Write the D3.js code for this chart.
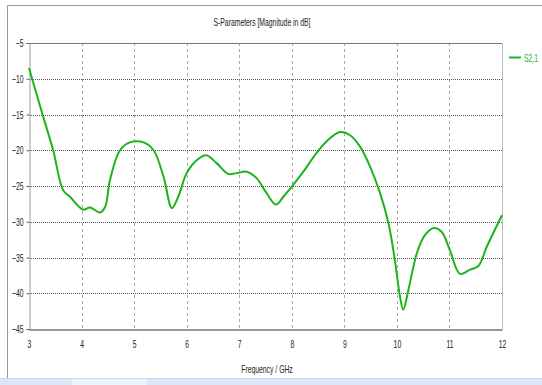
<!DOCTYPE html>
<html>
<head>
<meta charset="utf-8">
<script src="https://cdn.jsdelivr.net/npm/d3@7/dist/d3.min.js"></script>
<style>
  html, body { margin: 0; padding: 0; background: #fff; }
  svg { display: block; }
  text { font-family: "Liberation Sans", Arial, sans-serif; fill: #222; }
</style>
</head>
<body>
<svg id="chart" width="542" height="385"></svg>
<script>
// S21 magnitude versus frequency
const freqGHz = [3.0, 3.27, 3.46, 3.65, 3.78, 4.03, 4.16, 4.35, 4.45, 4.54, 4.73, 4.92, 5.18, 5.37, 5.56, 5.72, 5.84, 6.0, 6.19, 6.37, 6.57, 6.79, 6.95, 7.14, 7.33, 7.52, 7.70, 7.84, 8.0, 8.22, 8.47, 8.70, 8.92, 9.11, 9.30, 9.49, 9.68, 9.84, 9.96, 10.06, 10.12, 10.22, 10.38, 10.53, 10.69, 10.85, 11.01, 11.20, 11.39, 11.55, 11.71, 12.0];
const s21dB = [-8.5, -15.3, -20.0, -25.6, -26.5, -28.3, -28.0, -28.7, -27.9, -24.2, -20.0, -18.9, -18.9, -20.0, -23.7, -28.1, -26.5, -23.2, -21.4, -20.7, -21.8, -23.3, -23.2, -23.0, -23.9, -26.0, -27.6, -26.5, -25.1, -23.0, -20.4, -18.5, -17.45, -17.9, -19.5, -22.3, -26.0, -30.2, -35.3, -40.5, -42.3, -39.5, -34.4, -31.9, -30.9, -31.4, -34.0, -37.3, -36.7, -36.2, -33.5, -29.1];
const xTicks = [3, 4, 5, 6, 7, 8, 9, 10, 11, 12];
const yTicks = [-5, -10, -15, -20, -25, -30, -35, -40, -45];
const seriesName = "S2,1";
const chartTitle = "S-Parameters [Magnitude in dB]";
const xTitle = "Frequency / GHz";

const svg = d3.select("#chart");
const W = 542, H = 385;
const plot = { left: 29, right: 502, top: 43, bottom: 329 };
const green = "#1cb41c";
const squeeze = 0.62;

// window frame and bottom strip
svg.append("line").attr("x1", 7.5).attr("x2", 7.5).attr("y1", 5).attr("y2", 379)
  .attr("stroke", "#999").attr("stroke-width", 1);
svg.append("line").attr("x1", 7).attr("x2", W).attr("y1", 5.5).attr("y2", 5.5)
  .attr("stroke", "#999").attr("stroke-width", 1);
svg.append("rect").attr("x", 0).attr("y", 378).attr("width", W).attr("height", 7).attr("fill", "#dbe7f6");
svg.append("rect").attr("x", 0).attr("y", 378).attr("width", W).attr("height", 1).attr("fill", "#c7d9ef");
svg.append("rect").attr("x", 72).attr("y", 379).attr("width", 75).attr("height", 6).attr("fill", "#eef4fb");

const x = d3.scaleLinear().domain([3, 12]).range([plot.left, plot.right]);
const y = d3.scaleLinear().domain([-45, -5]).range([plot.bottom, plot.top]);

// grid
const g = svg.append("g");
g.selectAll("line.vgrid").data(xTicks.slice(1, -1)).join("line")
  .attr("x1", d => Math.round(x(d)) + 0.5).attr("x2", d => Math.round(x(d)) + 0.5)
  .attr("y1", plot.top).attr("y2", plot.bottom)
  .attr("stroke", "#aaa").attr("stroke-dasharray", "3,3");
g.selectAll("line.hgrid").data(yTicks.slice(1, -1)).join("line")
  .attr("x1", plot.left).attr("x2", plot.right)
  .attr("y1", d => Math.round(y(d)) + 0.5).attr("y2", d => Math.round(y(d)) + 0.5)
  .attr("stroke", "#555").attr("stroke-dasharray", "1,1");

// plot borders
svg.append("line").attr("x1", plot.left).attr("x2", plot.right).attr("y1", plot.top + 0.5).attr("y2", plot.top + 0.5).attr("stroke", "#777");
svg.append("line").attr("x1", plot.right + 0.5).attr("x2", plot.right + 0.5).attr("y1", plot.top).attr("y2", plot.bottom).attr("stroke", "#bbb");

// axes
const yAxis = d3.axisLeft(y).tickValues(yTicks).tickSize(3).tickPadding(3).tickFormat(d3.format("d"));
const yg = svg.append("g").attr("transform", `translate(${plot.left + 0.5},0)`).call(yAxis);
yg.select(".domain").attr("stroke", "#999");
yg.selectAll(".tick line").attr("stroke", "#666");
yg.selectAll("text").attr("font-size", 11).attr("fill", "#222");

const xAxis = d3.axisBottom(x).tickValues(xTicks).tickSize(0).tickPadding(11).tickFormat(d3.format("d"));
const xg = svg.append("g").attr("transform", `translate(0,${plot.bottom + 0.5})`).call(xAxis);
xg.select(".domain").attr("stroke", "#333");
xg.selectAll("text").attr("font-size", 11).attr("fill", "#222");

// titles
svg.append("text").attr("x", 262).attr("y", 26).attr("text-anchor", "middle")
  .attr("font-size", 11).text(chartTitle);
svg.append("text").attr("x", 267).attr("y", 373).attr("text-anchor", "middle")
  .attr("font-size", 11).text(xTitle);

// condensed lettering for axis and title labels
svg.selectAll("text").each(function () {
  const len = this.getComputedTextLength();
  if (len > 0) {
    d3.select(this).attr("textLength", len * squeeze).attr("lengthAdjust", "spacingAndGlyphs");
  }
});

// data line
const line = d3.line().x((d, i) => x(freqGHz[i])).y(d => y(d)).curve(d3.curveCatmullRom.alpha(0.5));
svg.append("path").datum(s21dB).attr("d", line)
  .attr("fill", "none").attr("stroke", green).attr("stroke-width", 2);

// legend
svg.append("line").attr("x1", 509).attr("x2", 521).attr("y1", 57.5).attr("y2", 57.5)
  .attr("stroke", green).attr("stroke-width", 2);
svg.append("g").attr("transform", `translate(524,61.5) scale(${squeeze},1)`)
  .append("text").attr("font-size", 11).style("fill", green).text(seriesName);
</script>
</body>
</html>
